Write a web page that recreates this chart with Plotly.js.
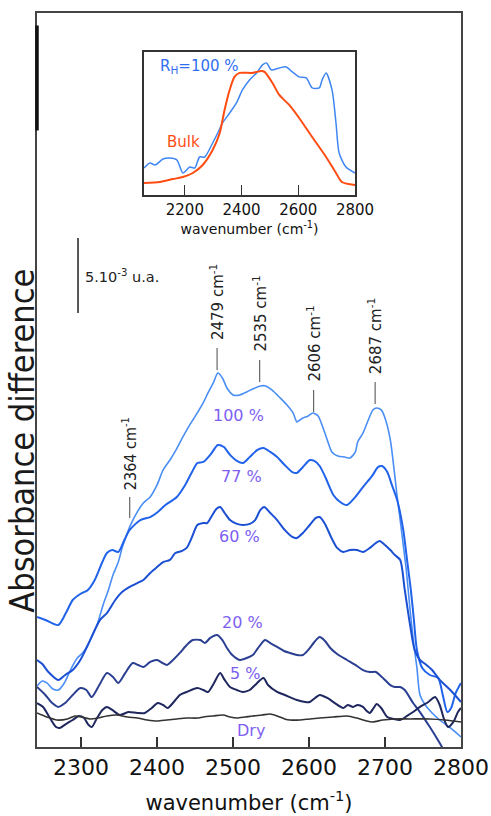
<!DOCTYPE html>
<html>
<head>
<meta charset="utf-8">
<script src="https://cdn.plot.ly/plotly-3.0.1.min.js"></script>
<style>html,body{margin:0;padding:0;background:#fff;}#chart{width:491px;height:816px;}</style>
</head>
<body>
<div id="chart"></div>
<script>
// ---- Data (absorbance difference in 10^-3 a.u., wavenumber in cm^-1) ----
var wn100 = [2242,2249,2255,2263,2270,2278,2286,2295,2303,2312,2321,2329,2336,2342,2349,2354,2359,2364,2374,2382,2391,2400,2408,2417,2425,2434,2443,2453,2461,2467,2474,2480,2486,2492,2500,2509,2518,2526,2536,2543,2551,2562,2571,2579,2584,2588,2592,2599,2605,2612,2618,2624,2630,2638,2647,2654,2661,2664,2671,2678,2684,2689,2695,2700,2707,2712,2716,2720,2724,2728,2733,2738,2742,2746,2753,2762,2772,2786,2800];
var abs100 = [4.07,4.4,4.27,3.87,3.8,4.27,5.13,5.93,6.33,7.13,8.13,9.47,10.47,11.47,12.33,13.27,14.0,14.67,15.67,16.27,16.67,17.47,18.47,19.13,19.8,20.67,21.47,22.27,22.97,23.6,24.27,24.93,24.6,23.93,23.47,23.47,23.67,23.87,24.07,24.07,23.8,23.27,22.8,22.27,21.67,21.8,21.93,22.07,22.27,22.07,21.33,20.47,19.67,19.4,19.33,19.27,19.67,20.33,20.93,21.8,22.47,22.6,22.47,21.93,20.47,18.47,16.67,15.13,13.47,11.8,9.13,6.8,5.27,3.47,2.8,2.27,1.8,1.27,0.67];

var wn77 = [2242,2253,2270,2280,2289,2299,2309,2318,2328,2334,2341,2349,2357,2364,2378,2391,2401,2411,2426,2437,2446,2453,2461,2470,2480,2488,2496,2505,2513,2522,2532,2540,2549,2558,2568,2578,2584,2592,2601,2607,2614,2622,2632,2641,2650,2661,2671,2683,2691,2696,2703,2709,2716,2724,2729,2734,2738,2742,2749,2759,2770,2776,2782,2787,2793,2800];
var abs77 = [8.67,8.47,8.13,8.93,9.8,10.2,10.47,11.13,12.33,12.93,13.13,13.0,13.8,14.47,15.13,15.33,15.67,16.13,16.67,17.47,18.33,18.93,19.0,19.47,20.13,20.0,19.47,19.07,18.93,19.33,19.8,19.93,19.67,19.33,18.8,18.33,18.27,18.67,19.13,19.07,18.73,17.93,16.8,16.33,16.13,16.67,17.33,18.07,18.67,18.73,18.33,17.47,16.47,14.47,12.47,10.47,8.47,6.47,5.27,4.8,4.6,3.47,2.33,2.6,3.6,4.27];

var wn60 = [2242,2249,2257,2270,2279,2289,2299,2309,2318,2325,2334,2345,2354,2364,2374,2382,2391,2400,2408,2417,2424,2433,2439,2446,2453,2461,2466,2472,2478,2483,2489,2496,2505,2513,2522,2529,2536,2541,2549,2558,2568,2578,2584,2592,2601,2609,2614,2621,2629,2637,2645,2654,2663,2671,2680,2688,2693,2700,2707,2713,2720,2726,2733,2739,2746,2753,2762,2772,2786,2800];
var abs60 = [5.8,5.53,5.0,4.47,4.8,5.13,5.8,6.8,7.8,8.47,8.93,9.8,10.33,10.67,10.93,11.13,11.6,12.0,12.33,12.47,12.93,13.07,13.27,14.0,14.8,14.93,14.93,15.4,15.87,16.0,15.6,15.13,14.87,14.8,14.87,15.13,15.8,16.0,15.6,15.13,14.47,14.0,13.93,14.27,14.8,15.27,15.33,14.87,14.0,13.27,13.0,13.13,13.13,13.0,13.27,13.6,13.73,13.47,13.13,12.8,12.47,10.47,8.13,6.47,5.8,5.53,5.13,4.47,3.8,3.0];

var wn20 = [2242,2253,2262,2270,2279,2289,2299,2307,2314,2324,2334,2342,2349,2358,2368,2375,2382,2391,2400,2407,2413,2421,2430,2439,2447,2457,2463,2470,2479,2486,2492,2499,2509,2518,2526,2533,2542,2549,2558,2567,2575,2584,2592,2599,2607,2614,2621,2628,2637,2650,2661,2671,2680,2688,2693,2700,2707,2713,2720,2726,2737,2746,2759,2768,2775,2786,2800];
var abs20 = [4.0,3.47,2.93,2.67,2.93,3.47,3.93,3.8,3.33,4.13,4.93,4.67,4.27,4.93,5.6,5.47,5.33,5.67,5.8,5.6,5.47,5.8,6.27,6.8,7.13,7.13,6.93,7.27,7.47,7.13,6.6,6.13,5.8,5.93,6.13,6.6,7.13,6.93,6.67,6.4,6.27,6.13,6.13,6.47,7.0,7.33,7.07,6.6,6.2,5.8,5.47,5.13,5.0,5.0,4.8,4.47,4.13,4.0,4.0,3.8,2.93,2.33,1.33,0.6,0,-0.87,-1.87];

var wn5 = [2242,2250,2259,2267,2272,2280,2289,2297,2304,2309,2314,2321,2328,2334,2341,2351,2362,2374,2384,2393,2401,2408,2414,2422,2430,2439,2453,2461,2467,2475,2483,2489,2496,2505,2513,2522,2529,2540,2546,2558,2568,2584,2595,2601,2608,2614,2624,2634,2645,2651,2658,2664,2671,2676,2680,2685,2689,2695,2703,2711,2720,2729,2737,2746,2757,2766,2772,2778,2783,2790,2796,2800];
var abs5 = [2.93,2.67,1.93,1.33,1.27,1.53,1.8,2.07,1.93,1.53,1.33,1.93,2.47,2.67,2.47,2.13,2.33,2.27,2.27,2.6,2.93,2.8,2.6,3.0,3.47,3.67,3.93,3.8,3.67,4.27,4.93,4.47,4.0,3.8,3.67,3.8,4.13,4.6,4.13,3.67,3.47,3.13,3.0,3.0,3.27,3.47,3.27,2.93,2.6,2.8,2.67,2.8,2.67,2.4,2.27,2.6,2.87,2.6,2.0,1.87,1.8,2.07,2.33,2.67,3.0,3.33,2.8,1.8,1.33,1.67,2.33,2.6];

var wnDry = [2242,2255,2268,2282,2292,2301,2312,2322,2334,2347,2361,2374,2387,2400,2413,2426,2439,2453,2461,2474,2487,2496,2505,2516,2526,2538,2549,2558,2568,2575,2588,2601,2614,2632,2650,2663,2676,2684,2697,2713,2733,2759,2779,2800];
var absDry = [2.27,2.0,1.8,1.87,2.07,2.0,1.87,1.93,2.07,2.13,2.0,1.93,1.8,1.73,1.8,1.87,1.93,1.93,2.0,2.07,2.13,2.0,1.93,2.0,2.07,2.13,2.2,2.07,1.87,1.8,1.8,1.87,1.93,2.0,2.07,1.93,1.73,1.67,1.8,1.87,1.87,1.87,1.8,1.67];

// inset (arbitrary units)
var wnInsetRH = [2056,2077,2095,2123,2147,2172,2193,2217,2235,2252,2270,2298,2316,2333,2358,2382,2403,2428,2453,2474,2488,2505,2533,2558,2579,2603,2628,2649,2674,2684,2698,2719,2733,2744,2768,2800];
var absInsetRH = [2.7,3.2,3.0,3.6,3.7,3.5,2.2,2.8,2.7,3.8,3.8,5.2,6.2,7.2,8.2,9.2,10.5,11.5,12.2,13.0,13.2,12.5,12.7,12.8,12.3,11.8,11.7,10.7,10.7,11.5,12.2,10.5,7.2,4.2,2.8,2.2];
var wnInsetBulk = [2056,2112,2158,2193,2228,2263,2298,2323,2340,2358,2375,2393,2438,2470,2481,2509,2533,2568,2603,2649,2698,2733,2754,2800];
var absInsetBulk = [1.2,1.3,1.6,1.8,2.2,3.0,4.5,6.2,8.5,10.5,11.8,12.2,12.2,12.4,12.3,11.2,10.0,9.0,7.7,5.8,3.8,2.2,1.3,1.0];

var seriesLabels = ['100 %','77 %','60 %','20 %','5 %','Dry'];
var peakWn = [2364, 2479, 2535, 2606, 2687];
var mainTicks = [2300, 2400, 2500, 2600, 2700, 2800];
var insetTicks = [2200, 2400, 2600, 2800];

// ---- Styling / layout helpers ----
var FONT = 'DejaVu Sans, Verdana, sans-serif';
var NARROW = 'Liberation Sans Narrow, DejaVu Sans Condensed, Arial Narrow, sans-serif';
var colors = ['#4a8ef5', '#2163ea', '#1b4fd4', '#2b3f92', '#1f275f', '#333333'];
var widths = [1.6, 2, 2, 2, 2, 1.6];
var xs = [wn100, wn77, wn60, wn20, wn5, wnDry];
var ys = [abs100, abs77, abs60, abs20, abs5, absDry];

var traces = [];
for (var i = 0; i < xs.length; i++) {
  traces.push({x: xs[i], y: ys[i], type: 'scatter', mode: 'lines', name: seriesLabels[i],
    line: {color: colors[i], width: widths[i], shape: 'spline', smoothing: 0.7},
    hoverinfo: 'skip', showlegend: false});
}
traces.push({x: wnInsetRH, y: absInsetRH, xaxis: 'x2', yaxis: 'y2', type: 'scatter', mode: 'lines',
  line: {color: '#3f86f2', width: 1.5, shape: 'spline', smoothing: 0.7}, showlegend: false, hoverinfo: 'skip'});
traces.push({x: wnInsetBulk, y: absInsetBulk, xaxis: 'x2', yaxis: 'y2', type: 'scatter', mode: 'lines',
  line: {color: '#ff4d12', width: 2, shape: 'spline', smoothing: 0.7}, showlegend: false, hoverinfo: 'skip'});

// label positions (layout only)
var labelPos = [[2507, 22.13], [2511, 18.0], [2509, 14.0], [2513, 8.27], [2516, 4.93], [2524, 1.13]];
var peakTextBottom = [17.0, 27.0, 26.2, 24.2, 24.73];
var peakTickTop = [16.67, 26.6, 25.8, 23.8, 24.33];
var peakTickBot = [15.27, 25.13, 24.33, 22.33, 22.87];

var annotations = [];
var shapes = [];
for (var j = 0; j < seriesLabels.length; j++) {
  annotations.push({x: labelPos[j][0], y: labelPos[j][1], xref: 'x', yref: 'y', text: seriesLabels[j],
    showarrow: false, xanchor: 'center', yanchor: 'middle', font: {family: FONT, size: 16, color: '#7d60f2'}});
}
for (var k = 0; k < peakWn.length; k++) {
  annotations.push({x: peakWn[k], y: peakTextBottom[k], xref: 'x', yref: 'y',
    text: peakWn[k] + ' cm<sup>-1</sup>', textangle: -90, showarrow: false,
    xanchor: 'center', yanchor: 'bottom',
    font: {family: k === 0 ? NARROW : FONT, size: k === 0 ? 16 : 15, color: '#222'}});
  shapes.push({type: 'line', xref: 'x', yref: 'y', x0: peakWn[k], x1: peakWn[k],
    y0: peakTickBot[k], y1: peakTickTop[k], line: {color: '#666', width: 1.2}});
}
// scale bar 5e-3
shapes.push({type: 'line', xref: 'x', yref: 'y', x0: 2296, x1: 2296, y0: 28.93, y1: 33.93,
  line: {color: '#555', width: 2}});
annotations.push({x: 2302, y: 31.4, xref: 'x', yref: 'y', text: '5.10<sup>-3</sup> u.a.', showarrow: false,
  xanchor: 'left', yanchor: 'middle', font: {family: FONT, size: 14.5, color: '#222'}});
// thick segment on left frame
shapes.push({type: 'line', xref: 'paper', yref: 'paper', x0: 0, x1: 0, y0: 0.84, y1: 0.983,
  line: {color: '#111', width: 3.5}});
// y title
annotations.push({x: -0.036, y: 0.417, xref: 'paper', yref: 'paper', text: 'Absorbance difference',
  textangle: -90, showarrow: false, xanchor: 'center', yanchor: 'middle',
  font: {family: NARROW, size: 34, color: '#1a1a1a'}});
// inset labels
annotations.push({x: 2105, y: 12.8, xref: 'x2', yref: 'y2', text: 'R<sub>H</sub>=100 %', showarrow: false,
  xanchor: 'left', yanchor: 'middle', font: {family: FONT, size: 15, color: '#2f6ff0'}});
annotations.push({x: 2130, y: 5.3, xref: 'x2', yref: 'y2', text: 'Bulk', showarrow: false,
  xanchor: 'left', yanchor: 'middle', font: {family: FONT, size: 15, color: '#ff4d12'}});

var layout = {
  width: 491, height: 816,
  margin: {l: 37, r: 30, t: 13, b: 69},
  paper_bgcolor: '#fff', plot_bgcolor: 'rgba(0,0,0,0)',
  showlegend: false,
  xaxis: {range: [2242, 2800], domain: [0, 1], showline: true, mirror: true, linecolor: '#444', linewidth: 2,
    ticks: 'inside', ticklen: 10, tickwidth: 1.5, tickcolor: '#333', tickvals: mainTicks,
    tickfont: {family: FONT, size: 22, color: '#111'}, showgrid: false, zeroline: false,
    title: {text: 'wavenumber (cm<sup>-1</sup>)', font: {family: FONT, size: 21, color: '#111'}, standoff: 16}},
  yaxis: {range: [0, 48.93], domain: [0, 1], showline: true, mirror: true, linecolor: '#444', linewidth: 2,
    ticks: '', showticklabels: false, showgrid: false, zeroline: false},
  xaxis2: {anchor: 'y2', domain: [0.2524, 0.75], range: [2056, 2800], showline: true, mirror: true,
    linecolor: '#333', linewidth: 1.5, ticks: 'inside', ticklen: 10, tickcolor: '#333', tickvals: insetTicks,
    tickfont: {family: FONT, size: 15, color: '#111'}, showgrid: false, zeroline: false,
    title: {text: 'wavenumber (cm<sup>-1</sup>)', font: {family: FONT, size: 14, color: '#111'}, standoff: 5}},
  yaxis2: {anchor: 'x2', domain: [0.752, 0.947], range: [0, 14.3], showline: true, mirror: true,
    linecolor: '#333', linewidth: 1.5, ticks: '', showticklabels: false, showgrid: false, zeroline: false},
  annotations: annotations,
  shapes: shapes
};

Plotly.newPlot('chart', traces, layout, {displayModeBar: false});
</script>
</body>
</html>
